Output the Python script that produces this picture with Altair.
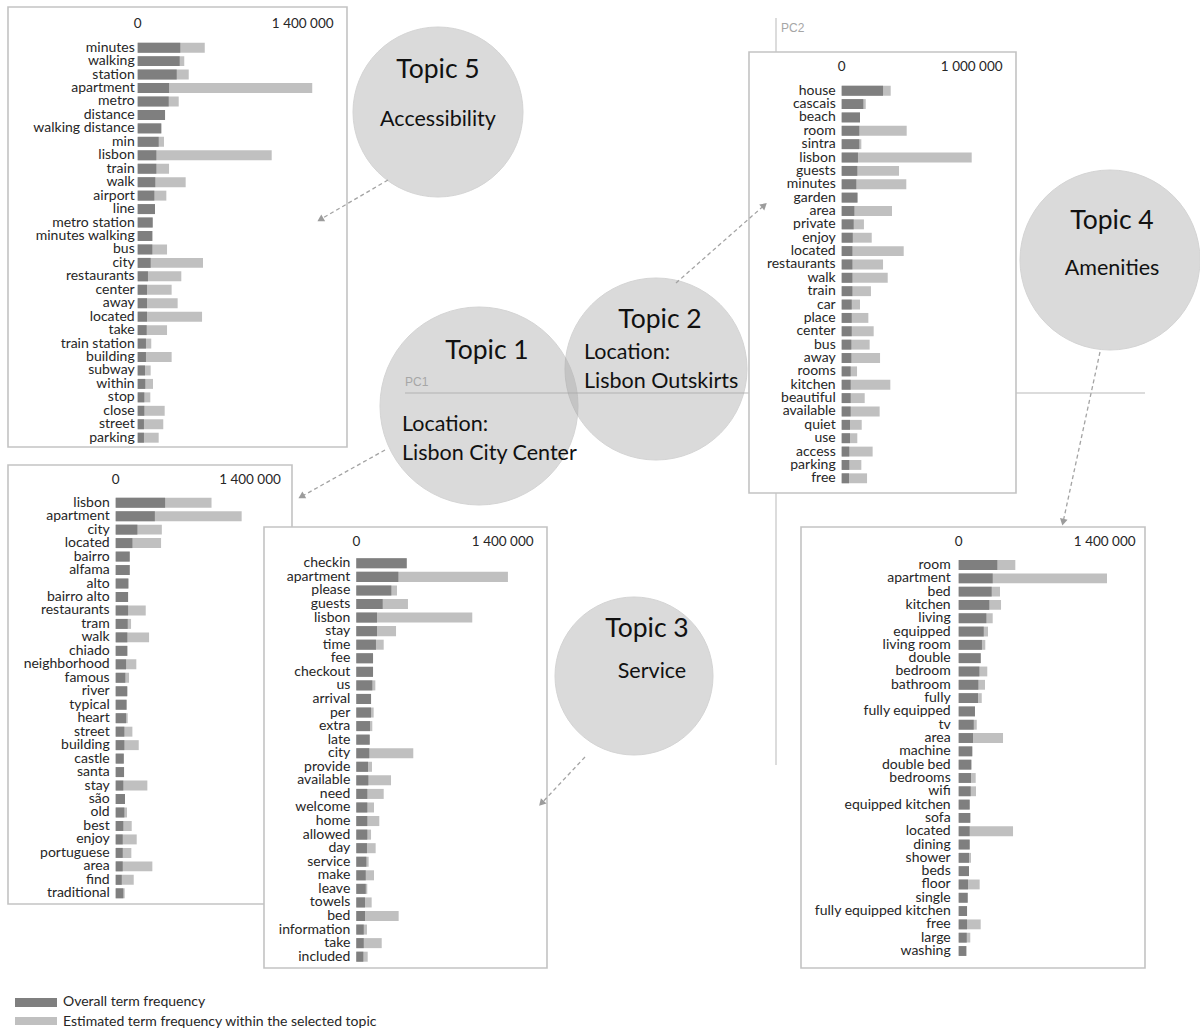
import math
import altair as alt
import pandas as pd

FONT = "Lato"
DARK = "#7f7f7f"
LIGHT = "#c0c0c0"
INK = "#262626"

# ---------------- data (term frequencies, in thousands) ----------------
t5_terms = ["minutes", "walking", "station", "apartment", "metro", "distance", "walking distance", "min",
            "lisbon", "train", "walk", "airport", "line", "metro station", "minutes walking", "bus", "city",
            "restaurants", "center", "away", "located", "take", "train station", "building", "subway",
            "within", "stop", "close", "street", "parking"]
t5_overall = [361, 356, 331, 266, 263, 232, 200, 178, 158, 158, 149, 141, 147, 127, 124, 124, 110,
              87, 79, 79, 79, 76, 70, 70, 62, 64, 56, 56, 53, 53]
t5_estimated = [569, 395, 433, 1481, 348, 232, 200, 223, 1137, 266, 407, 243, 147, 127, 124, 249, 554,
                370, 288, 339, 546, 249, 115, 288, 110, 130, 107, 229, 217, 178]

t1_terms = ["lisbon", "apartment", "city", "located", "bairro", "alfama", "alto", "bairro alto", "restaurants",
            "tram", "walk", "chiado", "neighborhood", "famous", "river", "typical", "heart", "street",
            "building", "castle", "santa", "stay", "são", "old", "best", "enjoy", "portuguese", "area",
            "find", "traditional"]
t1_overall = [515, 408, 226, 174, 146, 146, 132, 129, 129, 125, 121, 121, 108, 100, 118, 111, 108, 90,
              90, 84, 87, 79, 97, 90, 79, 73, 73, 73, 63, 79]
t1_estimated = [999, 1313, 481, 473, 146, 146, 132, 129, 313, 160, 348, 121, 215, 139, 125, 118, 125, 174,
                240, 84, 87, 330, 97, 118, 167, 219, 163, 382, 188, 94]

t3_terms = ["checkin", "apartment", "please", "guests", "lisbon", "stay", "time", "fee", "checkout", "us",
            "arrival", "per", "extra", "late", "city", "provide", "available", "need", "welcome", "home",
            "allowed", "day", "service", "make", "leave", "towels", "bed", "information", "take", "included"]
t3_overall = [482, 402, 335, 252, 198, 198, 188, 160, 160, 153, 141, 141, 131, 128, 124, 112, 115, 105,
              105, 105, 105, 102, 96, 90, 90, 83, 83, 71, 71, 67]
t3_estimated = [482, 1450, 389, 494, 1109, 380, 262, 160, 160, 182, 141, 166, 153, 128, 545, 150, 332, 262,
                169, 220, 141, 185, 118, 169, 105, 147, 405, 102, 243, 109]

t2_terms = ["house", "cascais", "beach", "room", "sintra", "lisbon", "guests", "minutes", "garden", "area",
            "private", "enjoy", "located", "restaurants", "walk", "train", "car", "place", "center", "bus",
            "away", "rooms", "kitchen", "beautiful", "available", "quiet", "use", "access", "parking", "free"]
t2_overall = [318, 166, 141, 135, 135, 125, 120, 112, 120, 97, 92, 85, 82, 82, 82, 82, 77, 77, 77, 74,
              74, 69, 69, 69, 69, 64, 64, 58, 58, 56]
t2_estimated = [377, 185, 141, 500, 151, 1000, 441, 497, 124, 387, 171, 231, 477, 318, 354, 225, 141, 205,
                246, 215, 295, 118, 374, 177, 292, 154, 120, 238, 151, 195]

t4_terms = ["room", "apartment", "bed", "kitchen", "living", "equipped", "living room", "double", "bedroom",
            "bathroom", "fully", "fully equipped", "tv", "area", "machine", "double bed", "bedrooms", "wifi",
            "equipped kitchen", "sofa", "located", "dining", "shower", "beds", "floor", "single",
            "fully equipped kitchen", "free", "large", "washing"]
t4_overall = [370, 326, 316, 293, 265, 240, 223, 211, 198, 188, 185, 156, 144, 137, 130, 121, 118, 115,
              105, 111, 105, 105, 99, 99, 89, 86, 80, 80, 77, 73]
t4_estimated = [543, 1422, 396, 406, 326, 281, 255, 211, 274, 252, 221, 156, 173, 425, 130, 121, 163, 166,
                105, 111, 521, 105, 118, 99, 201, 86, 80, 211, 111, 73]

ticks_14 = [0, 1400]
tick_labels_14 = ["0", "1 400 000"]
ticks_10 = [0, 1000]
tick_labels_10 = ["0", "1 000 000"]

topic_titles = ["Topic 5", "Topic 1", "Topic 2", "Topic 4", "Topic 3"]
topic_names = ["Accessibility", "Location:\nLisbon City Center", "Location:\nLisbon Outskirts",
               "Amenities", "Service"]

legend_labels = ["Overall term frequency", "Estimated term frequency within the selected topic"]

# ---------------- layout (pixels) ----------------
W, H = 1200, 1032
cx = alt.Scale(domain=[0, W], range=[0, W])
cy = alt.Scale(domain=[0, H], range=[0, H])

panel_layout = {
    "t5": dict(x0=137.7, px=165.0, y_first=47.7, y_last=437.7, tick_y=23.5, gap=3, box=(8, 7, 347, 447)),
    "t1": dict(x0=115.7, px=134.3, y_first=502.7, y_last=893.3, tick_y=480, gap=6, box=(8, 465, 292, 904)),
    "t3": dict(x0=356.3, px=146.4, y_first=563.3, y_last=956.7, tick_y=541.7, gap=6, box=(264, 527, 547, 968)),
    "t2": dict(x0=841.7, px=130.0, y_first=90.7, y_last=478.3, tick_y=66.7, gap=6, box=(749, 52, 1016, 493)),
    "t4": dict(x0=958.7, px=146.0, y_first=565.0, y_last=951.0, tick_y=541.7, gap=8, box=(801, 527, 1145, 968)),
}
TERM_FS = 14


def panel(terms, overall, estimated, ticks, tick_labels, lay):
    df = pd.DataFrame({"term": terms, "overall": overall, "estimated": estimated})
    n = len(terms)
    step = (lay["y_last"] - lay["y_first"]) / (n - 1)
    ysc = alt.Scale(range=[lay["y_first"] - step / 2, lay["y_last"] + step / 2],
                    paddingInner=0.26, paddingOuter=0.13)
    xsc = alt.Scale(domain=[0, ticks[-1]], range=[lay["x0"], lay["x0"] + lay["px"]])
    y = alt.Y("term:N", sort=None, scale=ysc, axis=None)
    base = alt.Chart(df)
    lb = base.mark_bar(color=LIGHT).encode(x=alt.X("estimated:Q", scale=xsc, axis=None), y=y)
    db = base.mark_bar(color=DARK).encode(x=alt.X("overall:Q", scale=xsc, axis=None), y=y)
    lab = base.mark_text(align="right", baseline="middle", dx=-lay["gap"], font=FONT,
                         fontSize=TERM_FS, color=INK).encode(
        x=alt.X("zero:Q", scale=xsc, axis=None), y=y, text="term:N"
    ).transform_calculate(zero="0")
    tdf = pd.DataFrame({"v": ticks, "label": tick_labels})
    tk = alt.Chart(tdf).mark_text(align="center", baseline="middle", font=FONT, fontSize=13.5,
                                   color=INK).encode(
        x=alt.X("v:Q", scale=xsc, axis=None), y=alt.value(lay["tick_y"]), text="label:N")
    return alt.layer(lb, db, lab, tk)


# ---------------- canvas elements ----------------
lines_df = pd.DataFrame([
    dict(x=405, x2=1145, y=393, y2=393),
    dict(x=776, x2=776, y=18, y2=765),
])
pc_df = pd.DataFrame([dict(x=405, y=382, t="PC1"), dict(x=781, y=28, t="PC2")])

circle_layout = [(438, 112, 85), (479, 406, 99), (656, 369, 91), (1110, 260, 90), (634, 676, 79)]
circ_df = pd.DataFrame([dict(x=x, y=y, area=(2 * r) ** 2) for x, y, r in circle_layout])

title_pos = [(438, 70), (487, 351), (660, 320), (1112, 221), (647, 629)]
name_pos = [(438, 120, "center"), (402, 425, "left"), (584, 353, "left"), (1112, 269, "center"),
            (652, 672, "center")]
centered_rows, left_rows = [], []
for t, (x, y) in zip(topic_titles, title_pos):
    centered_rows.append(dict(x=x, y=y, t=t, fs=26.5))
for nm, (x, y, al) in zip(topic_names, name_pos):
    for i, part in enumerate(nm.split("\n")):
        row = dict(x=x, y=y + i * 28.5, t=part, fs=21.5)
        (centered_rows if al == "center" else left_rows).append(row)
ctext_df = pd.DataFrame(centered_rows)
ltext_df = pd.DataFrame(left_rows)

boxes_df = pd.DataFrame([dict(x=b[0], y=b[1], x2=b[2], y2=b[3]) for b in
                         [panel_layout[k]["box"] for k in ["t5", "t1", "t3", "t2", "t4"]]])

arrow_layout = [((388, 180), (316, 222)), ((385, 450), (297, 499)), ((676, 283), (768, 202)),
                ((1100, 352), (1062, 527)), ((585, 757), (538, 807))]
arows = []
for (x1, y1), (x2, y2) in arrow_layout:
    L = math.hypot(x2 - x1, y2 - y1)
    ux, uy = (x2 - x1) / L, (y2 - y1) / L
    hx, hy = x2 - 5 * ux, y2 - 5 * uy
    arows.append(dict(x=x1, y=y1, x2=hx - 3 * ux, y2=hy - 3 * uy, hx=hx, hy=hy,
                      angle=math.degrees(math.atan2(ux, -uy)) % 360))
arrow_df = pd.DataFrame(arows)

leg_rect_df = pd.DataFrame([dict(x=15, x2=57, y=998, y2=1007, c=DARK),
                            dict(x=15, x2=57, y=1017, y2=1025, c=LIGHT)])
leg_text_df = pd.DataFrame([dict(x=63, y=1002, t=legend_labels[0]), dict(x=63, y=1021.5, t=legend_labels[1])])

X = lambda f: alt.X(f, scale=cx, axis=None)
Y = lambda f: alt.Y(f, scale=cy, axis=None)

axis_lines = alt.Chart(lines_df).mark_rule(color="#d0d0d0", strokeWidth=1.5).encode(
    x=X("x:Q"), x2="x2:Q", y=Y("y:Q"), y2="y2:Q")
pc_text = alt.Chart(pc_df).mark_text(align="left", baseline="middle", font="Liberation Sans",
                                     fontSize=12, color="#a6a6a6").encode(
    x=X("x:Q"), y=Y("y:Q"), text="t:N")
circles = alt.Chart(circ_df).mark_circle(color="#a8a8a8", opacity=0.42, stroke="#9a9a9a",
                                          strokeWidth=1).encode(
    x=X("x:Q"), y=Y("y:Q"), size=alt.Size("area:Q", scale=None, legend=None))
ctext = alt.Chart(ctext_df).mark_text(align="center", baseline="middle", font=FONT, color="#111111").encode(
    x=X("x:Q"), y=Y("y:Q"), text="t:N", size=alt.Size("fs:Q", scale=None, legend=None))
ltext = alt.Chart(ltext_df).mark_text(align="left", baseline="middle", font=FONT, color="#111111").encode(
    x=X("x:Q"), y=Y("y:Q"), text="t:N", size=alt.Size("fs:Q", scale=None, legend=None))
boxes = alt.Chart(boxes_df).mark_rect(fill="white", stroke="#c3c3c3", strokeWidth=1.6).encode(
    x=X("x:Q"), x2="x2:Q", y=Y("y:Q"), y2="y2:Q")
arrow_lines = alt.Chart(arrow_df).mark_rule(color="#a3a3a3", strokeWidth=1.3, strokeDash=[4, 3]).encode(
    x=X("x:Q"), x2="x2:Q", y=Y("y:Q"), y2="y2:Q")
arrow_heads = alt.Chart(arrow_df).mark_point(shape="triangle-up", filled=True, color="#9c9c9c",
                                             size=60, opacity=1).encode(
    x=X("hx:Q"), y=Y("hy:Q"), angle=alt.Angle("angle:Q", scale=None))
leg_rects = alt.Chart(leg_rect_df).mark_rect().encode(
    x=X("x:Q"), x2="x2:Q", y=Y("y:Q"), y2="y2:Q", color=alt.Color("c:N", scale=None))
leg_text = alt.Chart(leg_text_df).mark_text(align="left", baseline="middle", font=FONT, fontSize=14,
                                            color=INK).encode(x=X("x:Q"), y=Y("y:Q"), text="t:N")

canvas = alt.layer(axis_lines, pc_text, circles, ctext, ltext, boxes, arrow_lines, arrow_heads,
                   leg_rects, leg_text)

p5 = panel(t5_terms, t5_overall, t5_estimated, ticks_14, tick_labels_14, panel_layout["t5"])
p1 = panel(t1_terms, t1_overall, t1_estimated, ticks_14, tick_labels_14, panel_layout["t1"])
p3 = panel(t3_terms, t3_overall, t3_estimated, ticks_14, tick_labels_14, panel_layout["t3"])
p2 = panel(t2_terms, t2_overall, t2_estimated, ticks_10, tick_labels_10, panel_layout["t2"])
p4 = panel(t4_terms, t4_overall, t4_estimated, ticks_14, tick_labels_14, panel_layout["t4"])

chart = alt.layer(canvas, p5, p1, p3, p2, p4).resolve_scale(
    x="independent", y="independent"
).properties(
    width=W, height=H, padding=0, autosize=alt.AutoSizeParams(type="none"), background="white"
).configure_view(stroke=None)

chart.save("out.html", embed_options={"renderer": "svg", "actions": False})
